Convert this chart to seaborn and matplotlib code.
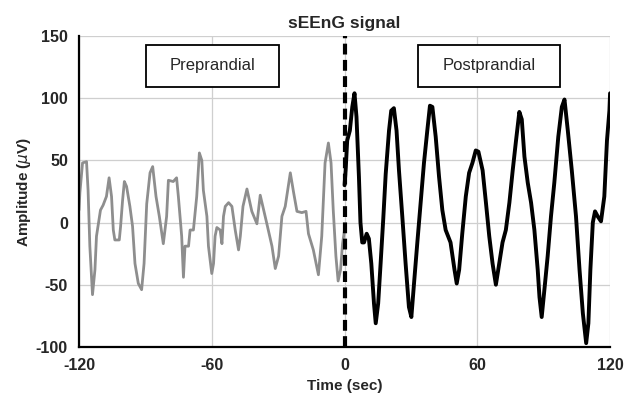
import matplotlib
matplotlib.use("Agg")
import matplotlib.pyplot as plt
from matplotlib.patches import Rectangle
import numpy as np
import pandas as pd
import seaborn as sns

# preprandial (grey) samples
pre_t = [-120, -119.6, -118.4, -116.6, -115.9, -115.1, -113.9, -112.8, -112.1, -110.3,
         -109.1, -107.6, -106.4, -105.3, -104.5, -103.8, -101.8, -101.2, -100.3, -99.5,
         -98.5, -97, -95.8, -94.7, -93.2, -91.7, -90.6, -89.4, -87.9, -86.7,
         -85.2, -83.7, -81.9, -80.4, -79.6, -77.4, -75.9, -75.1, -73.6, -72.8,
         -72.1, -70.5, -69.8, -68.3, -66.8, -65.6, -64.5, -63.8, -62.2, -61.5,
         -60, -59.2, -58.5, -57.7, -56.2, -55.4, -54.7, -53.9, -52.4, -50.9,
         -49.4, -47.9, -47.1, -45.9, -44.1, -41.9, -39.6, -38.1, -35.1, -32.8,
         -31.3, -29.8, -28.3, -26.8, -24.5, -23, -21.5, -19.3, -17.4, -16.3,
         -14.1, -11.8, -10.3, -8.8, -7.3, -6.1, -5.1, -3.9, -2.9, -1.8,
         -0.9, 0]
pre_v = [10, 24, 48, 49, 26, -19, -58, -38, -11, 10,
         14, 21, 36, 21, -6, -14, -14, -3, 18, 33,
         29, 13, -3, -33, -49, -54, -33, 15, 40, 45,
         21, 5, -17, 5, 34, 33, 36, 21, -11, -44,
         -19, -19, -6, -6, 21, 56, 50, 26, 5, -19,
         -41, -33, -11, -4, -6, -17, 5, 13, 16, 13,
         -6, -22, -11, 13, 27, 9, -1, 22, -1, -19,
         -37, -27, 5, 13, 40, 24, 9, 8, 9, -9,
         -22, -42, -11, 48, 64, 48, 10, -27, -47, -38,
         -17, -6]

# postprandial (black) samples
post_t = [0, 0.5, 1.2, 2.4, 3.5, 4.5, 5.4, 6.5, 7.2, 8,
          8.8, 10, 11, 12.1, 13.3, 14.1, 15.2, 16.3, 17.5, 18.6,
          20.1, 21.1, 22.3, 23.5, 24.6, 26.1, 27.6, 29.1, 30.2, 31.4,
          32.9, 34.4, 35.9, 37.4, 38.6, 39.7, 41.2, 42.7, 44.2, 45.7,
          47.9, 49.7, 50.7, 51.8, 53.2, 54.8, 56.3, 57.8, 59.3, 60.5,
          62.4, 63.9, 65.4, 66.9, 68.4, 69.9, 71.4, 72.9, 74.5, 76,
          77.5, 79, 80.1, 81.3, 82.8, 84.3, 85.8, 87.3, 88.1, 89.1,
          90.6, 91.8, 93.3, 94.8, 96.6, 98.2, 99.4, 100.9, 102.7, 104.6,
          106.2, 107.7, 109.2, 110.2, 111.1, 112.2, 113.2, 114.4, 115.9, 117.4,
          118.6, 119.7, 120]
post_v = [30, 42, 66, 74, 93, 104, 85, 37, 0, -16,
          -16, -9, -13, -33, -65, -81, -65, -33, 3, 39,
          74, 90, 92, 74, 42, 5, -33, -68, -76, -49,
          -16, 16, 48, 74, 94, 93, 69, 37, 10, -6,
          -16, -38, -49, -38, -9, 21, 40, 48, 58, 57,
          42, 16, -11, -33, -50, -33, -16, -6, 16, 42,
          66, 89, 83, 53, 32, 16, -6, -38, -60, -76,
          -49, -27, 5, 32, 69, 93, 99, 74, 42, 5,
          -38, -73, -97, -81, -38, 0, 9, 5, 1, 21,
          66, 90, 104]

x_ticks = [-120, -60, 0, 60, 120]
y_ticks = [-100, -50, 0, 50, 100, 150]

sns.set_style("whitegrid")
plt.rcParams['font.family'] = ['Liberation Sans', 'DejaVu Sans']
plt.rcParams['axes.unicode_minus'] = False

pre_df = pd.DataFrame({'t': pre_t, 'v': pre_v})
post_df = pd.DataFrame({'t': post_t, 'v': post_v})

fig = plt.figure(figsize=(6.27, 4.01), dpi=100)
ax = fig.add_axes([0.126, 0.135, 0.847, 0.775])

sns.lineplot(data=pre_df, x='t', y='v', color='#8e8e8e', lw=2.0, sort=False, ax=ax)
sns.lineplot(data=post_df, x='t', y='v', color='black', lw=2.8, sort=False, ax=ax)

ax.axvline(0, color='black', lw=3, linestyle=(0, (2.6, 1.3)), zorder=5)

ax.set_xlim(-120, 120)
ax.set_ylim(-100, 150)
ax.set_xticks(x_ticks)
ax.set_yticks(y_ticks)
ax.grid(True, color='#cfcfcf', lw=0.9)

for s in ['top', 'right']:
    ax.spines[s].set_visible(False)
for s in ['left', 'bottom']:
    ax.spines[s].set_color('black')
    ax.spines[s].set_linewidth(1.6)

ax.tick_params(direction='in', length=4, width=1.2, color='black',
               labelsize=11.5, pad=8)
for lab in ax.get_xticklabels() + ax.get_yticklabels():
    lab.set_fontweight('bold')

ax.set_title('sEEnG signal', fontsize=12.5, fontweight='bold', pad=6)
ax.set_xlabel('Time (sec)', fontsize=11, fontweight='bold', labelpad=4)
ax.set_ylabel(r'Amplitude ($\mu$V)', fontsize=11, fontweight='bold', labelpad=2)

# phase boxes
for x0, x1, txt in [(-89.7, -29.5, 'Preprandial'), (33.1, 97.4, 'Postprandial')]:
    ax.add_patch(Rectangle((x0, 109), x1 - x0, 34, facecolor='white',
                           edgecolor='black', lw=1.3, zorder=6))
    ax.text((x0 + x1) / 2, 126, txt, ha='center', va='center', fontsize=12, zorder=7)

fig.savefig('out.png', dpi=100)
